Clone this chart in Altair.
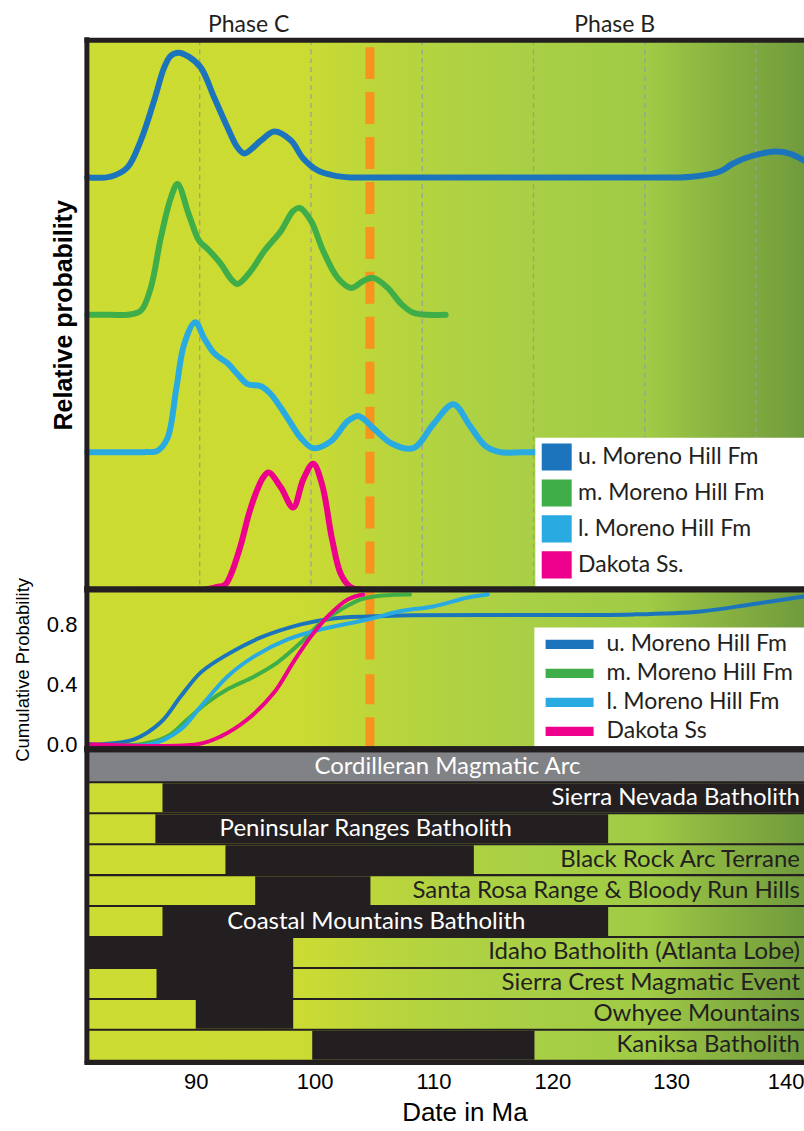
import altair as alt
import pandas as pd

# ---------------------------------------------------------------
# Detrital zircon age spectra, Moreno Hill Fm and Dakota Ss.
# ---------------------------------------------------------------
SAMPLES = ["u. Moreno Hill Fm", "m. Moreno Hill Fm", "l. Moreno Hill Fm", "Dakota Ss."]
SAMPLES_CUM = ["u. Moreno Hill Fm", "m. Moreno Hill Fm", "l. Moreno Hill Fm", "Dakota Ss"]
LINE_COLORS = ["#1c75bc", "#3fae49", "#29abe2", "#ec008c"]
STACK = [3, 2, 1, 0]          # vertical offset of each spectrum

# relative probability curves (age in Ma, height above own baseline)
u_pdf_age = [79.9, 82.0, 83.5, 84.7, 85.9, 86.8, 87.4, 88.1, 89.0, 90.1,
             91.3, 92.5, 93.4, 94.0, 95.5, 96.7, 98.2, 99.3, 100.6, 102.0,
             103.6, 105.0, 120.0, 131.5, 133.2, 135.0, 136.8, 137.9, 139.0, 140.1,
             141.7, 143.1, 144.3]
u_pdf = [0.0, 0.007, 0.073, 0.269, 0.56, 0.80, 0.887, 0.909, 0.88, 0.80,
         0.582, 0.364, 0.218, 0.175, 0.269, 0.335, 0.269, 0.138, 0.051, 0.015,
         0.0, 0.0, 0.0, 0.0, 0.0, 0.012, 0.045, 0.10, 0.14, 0.167,
         0.189, 0.172, 0.124]

m_pdf_age = [79.9, 82.0, 83.5, 84.7, 85.6, 86.5, 87.4, 88.0, 89.0, 89.8, 90.1,
             90.7, 91.9, 92.8, 93.4, 94.6, 95.8, 97.3, 98.4, 99.0, 100.0,
             101.1, 102.4, 103.6, 104.7, 105.6, 106.9, 108.1, 109.2, 110.5, 112.1]
m_pdf = [0.0, 0.0, 0.0, 0.029, 0.196, 0.56, 0.851, 0.953, 0.735, 0.56, 0.524,
         0.48, 0.371, 0.262, 0.225, 0.32, 0.465, 0.611, 0.756, 0.778, 0.684,
         0.465, 0.269, 0.196, 0.247, 0.269, 0.196, 0.08, 0.015, 0.0, 0.0]

l_pdf_age = [79.9, 83.0, 85.0, 86.2, 87.1, 87.9, 88.6, 89.6, 90.4, 91.3, 92.5,
             93.4, 94.3, 95.5, 96.4, 97.9, 99.1, 100.2, 101.8, 103.3, 104.3,
             105.6, 107.2, 109.2, 111.0, 112.8, 114.3, 115.7, 117.0, 119.0, 121.0]
l_pdf = [0.0, 0.0, 0.0, 0.01, 0.102, 0.465, 0.785, 0.945, 0.829, 0.72, 0.647,
         0.567, 0.495, 0.48, 0.422, 0.247, 0.102, 0.029, 0.08, 0.225, 0.262,
         0.175, 0.065, 0.029, 0.204, 0.349, 0.189, 0.044, 0.0, 0.0, 0.0]

d_pdf_age = [90.5, 91.4, 92.3, 92.8, 93.7, 94.4, 95.0, 95.7, 96.2, 97.3,
             98.4, 99.3, 100.2, 101.0, 101.9, 102.7, 103.6, 104.5]
d_pdf = [0.0, 0.015, 0.036, 0.109, 0.327, 0.545, 0.691, 0.815, 0.851, 0.742,
         0.596, 0.80, 0.916, 0.764, 0.364, 0.109, 0.015, 0.0]

# cumulative probability curves
u_cdf_age = [79.9, 81.1, 84.1, 86.5, 88.3, 90.1, 92.5, 95.5, 99.1, 102.0,
             105.1, 108.1, 129.0, 135.0, 139.5, 144.3]
u_cdf = [0.0, 0.0, 0.033, 0.147, 0.32, 0.48, 0.6, 0.713, 0.8, 0.84,
         0.853, 0.86, 0.867, 0.887, 0.933, 0.987]

m_cdf_age = [79.9, 84.7, 87.1, 88.9, 90.7, 92.5, 94.9, 97.0, 99.1, 100.9,
             102.7, 104.5, 106.5, 108.9]
m_cdf = [0.0, 0.0, 0.053, 0.167, 0.28, 0.367, 0.453, 0.547, 0.68, 0.813,
         0.9, 0.967, 0.993, 1.0]

l_cdf_age = [79.9, 85.6, 88.3, 90.1, 92.5, 94.9, 97.9, 100.9, 105.1, 108.1,
             111.0, 114.1, 115.9]
l_cdf = [0.0, 0.0, 0.1, 0.253, 0.453, 0.587, 0.7, 0.767, 0.833, 0.89,
         0.92, 0.98, 1.0]

d_cdf_age = [79.9, 89.8, 91.9, 94.3, 96.7, 98.4, 100.0, 101.5, 103.3, 104.7]
d_cdf = [0.0, 0.0, 0.053, 0.167, 0.347, 0.547, 0.72, 0.853, 0.967, 1.0]

# phases and reference lines
PHASES = ["Phase C", "Phase B"]
PHASE_MID = [94.4, 127.3]
PHASE_BOUNDARY = 105.3
GRID_AGES = [90, 100, 110, 120, 130, 140]

# Cordilleran magmatic arc belts: end of young activity / start of older activity (Ma)
ARC = "Cordilleran Magmatic Arc"
BELTS = ["Sierra Nevada Batholith", "Peninsular Ranges Batholith",
         "Black Rock Arc Terrane", "Santa Rosa Range & Bloody Run Hills",
         "Coastal Mountains Batholith", "Idaho Batholith (Atlanta Lobe)",
         "Sierra Crest Magmatic Event", "Owhyee Mountains", "Kaniksa Batholith"]
YOUNG_END = [87.2, 86.6, 92.5, 95.0, 87.2, None, 86.7, 90.0, 99.8]
OLD_START = [None, 124.7, 113.4, 104.7, 124.7, 98.2, 98.2, 98.2, 118.5]
LABEL_AT = [None, 104.3, None, None, 105.2, None, None, None, None]
LABEL_ON_DARK = [True, True, False, False, True, False, False, False, False]
AGE_TICKS = [90, 100, 110, 120, 130, 140]

# ---------------------------------------------------------------
# styling
# ---------------------------------------------------------------
W = 718
H_TOP, H_MID, H_BOT = 550, 160, 314
INK = "#231f20"
ORANGE = "#f7941d"
TXT_FONT = "Lato"
NUM_FONT = "Liberation Sans"
GRAD_OFFSETS = [0.0, 0.3, 0.4, 0.5, 0.62, 0.78, 0.87, 1.0]
GRAD_COLORS = ["#cddc32", "#cbdb33", "#bcd63b", "#b1d242", "#a8cf45",
               "#a0cb46", "#8bb541", "#709b3d"]
GRADIENT = alt.Gradient(
    gradient="linear", x1=0, x2=1, y1=0, y2=0,
    stops=[alt.GradientStop(offset=o, color=c) for o, c in zip(GRAD_OFFSETS, GRAD_COLORS)],
)

# legend swatches built from stacked strokes (solid block / thick bar)
SWATCH_BLOCK = "".join(f"M-1,{v:.1f}L1,{v:.1f}" for v in
                       [-0.8, -0.6, -0.4, -0.2, 0.0, 0.2, 0.4, 0.6, 0.8])
SWATCH_BAR = "M-2.5,-0.3125L2.5,-0.3125M-2.5,0L2.5,0M-2.5,0.3125L2.5,0.3125"

X_TOP = alt.Scale(domain=[79.86, 144.31], nice=False, zero=False)
X_BOT = alt.Scale(domain=[80.84, 141.18], nice=False, zero=False)

ONE = pd.DataFrame({"k": [0]})


def curve_table(names, ages_list, vals_list, offsets):
    rows = []
    for name, ages, vals, off in zip(names, ages_list, vals_list, offsets):
        rows += [{"sample": name, "age": a, "val": off + v} for a, v in zip(ages, vals)]
    return pd.DataFrame(rows)


pdf_df = curve_table(SAMPLES, [u_pdf_age, m_pdf_age, l_pdf_age, d_pdf_age],
                     [u_pdf, m_pdf, l_pdf, d_pdf], STACK)
cdf_df = curve_table(SAMPLES_CUM, [u_cdf_age, m_cdf_age, l_cdf_age, d_cdf_age],
                     [u_cdf, m_cdf, l_cdf, d_cdf], [0, 0, 0, 0])


def backdrop():
    return alt.Chart(ONE).mark_rect(fill=GRADIENT).encode(
        x=alt.value(0), x2=alt.value("width"), y=alt.value(0), y2=alt.value("height"))


def frame(top_w, bottom_w):
    return [
        alt.Chart(ONE).mark_rule(color=INK, strokeWidth=5).encode(
            x=alt.value(0), y=alt.value(-3), y2=alt.value("height")),
        alt.Chart(ONE).mark_rule(color=INK, strokeWidth=top_w).encode(
            x=alt.value(-2.5), x2=alt.value("width"), y=alt.value(0)),
        alt.Chart(ONE).mark_rule(color=INK, strokeWidth=bottom_w).encode(
            x=alt.value(-2.5), x2=alt.value("width"), y=alt.value("height")),
    ]


def legend_box(x0, y0):
    return alt.Chart(ONE).mark_rect(fill="white").encode(
        x=alt.value(x0), x2=alt.value("width"), y=alt.value(y0), y2=alt.value("height"))


# ---------------- panel 1: relative probability ----------------
grid = alt.Chart(pd.DataFrame({"age": GRID_AGES})).mark_rule(
    color="#9c9e8e", strokeWidth=1.2, strokeDash=[5, 4]
).encode(x=alt.X("age:Q", scale=X_TOP, axis=None))

boundary_top = alt.Chart(pd.DataFrame({"age": [PHASE_BOUNDARY]})).mark_rule(
    color=ORANGE, strokeWidth=9, strokeDash=[32, 13], strokeDashOffset=38
).encode(x=alt.X("age:Q", scale=X_TOP, axis=None))

pdf_lines = alt.Chart(pdf_df).mark_line(interpolate="catmull-rom", strokeCap="round").encode(
    x=alt.X("age:Q", scale=X_TOP, axis=None),
    y=alt.Y("val:Q", scale=alt.Scale(domain=[0, 4], nice=False, zero=False),
            axis=alt.Axis(title="Relative probability", labels=False, ticks=False,
                          domain=False, grid=False, titleFont=NUM_FONT,
                          titleFontSize=25, titleFontWeight="bold", titleColor="black",
                          titlePadding=10)),
    color=alt.Color("sample:N", scale=alt.Scale(domain=SAMPLES, range=LINE_COLORS),
                    legend=alt.Legend(title=None, orient="none", legendX=453.4, legendY=400.4,
                                      symbolType=SWATCH_BLOCK, symbolSize=900,
                                      symbolStrokeWidth=3.2, labelFont=TXT_FONT,
                                      labelFontSize=23, labelColor=INK, labelOffset=4.4,
                                      rowPadding=-2, padding=0, labelLimit=300)),
    strokeWidth=alt.value(6),
)

phase_text = alt.Chart(pd.DataFrame({"phase": PHASES, "age": PHASE_MID})).mark_text(
    font=TXT_FONT, fontSize=23, color=INK, baseline="middle"
).encode(x=alt.X("age:Q", scale=X_TOP, axis=None), y=alt.value(-15), text="phase:N")

top = alt.layer(
    backdrop(), grid, boundary_top, pdf_lines, legend_box(449, 398),
    *frame(5, 6), phase_text,
).properties(width=W, height=H_TOP)

# ---------------- panel 2: cumulative probability ----------------
boundary_mid = alt.Chart(pd.DataFrame({"age": [PHASE_BOUNDARY]})).mark_rule(
    color=ORANGE, strokeWidth=9, strokeDash=[70, 15, 30, 13, 32, 20]
).encode(x=alt.X("age:Q", scale=X_TOP, axis=None))

cdf_lines = alt.Chart(cdf_df).mark_line(interpolate="catmull-rom", strokeCap="round").encode(
    x=alt.X("age:Q", scale=X_TOP, axis=None),
    y=alt.Y("val:Q", scale=alt.Scale(domain=[-0.0333, 1.0333], nice=False, zero=False),
            axis=alt.Axis(values=[0, 0.4, 0.8], format=".1f", title="Cumulative Probability",
                          labelFont=NUM_FONT, labelFontSize=22, labelColor="black",
                          labelPadding=10, ticks=False, domain=False, grid=False,
                          titleFont=NUM_FONT, titleFontSize=18.5,
                          titleFontWeight="normal", titleColor="black", titlePadding=14)),
    color=alt.Color("sample:N", scale=alt.Scale(domain=SAMPLES_CUM, range=LINE_COLORS),
                    legend=alt.Legend(title=None, orient="none", legendX=471.8, legendY=43.5,
                                      symbolType=SWATCH_BAR, symbolSize=369,
                                      symbolStrokeWidth=3.2, labelFont=TXT_FONT,
                                      labelFontSize=23, labelColor=INK, labelOffset=25.5,
                                      rowPadding=5, padding=0, labelLimit=300)),
    strokeWidth=alt.value(4),
)

mid = alt.layer(
    backdrop(), boundary_mid, cdf_lines, legend_box(448, 38), *frame(6, 6),
).properties(width=W, height=H_MID)

# ---------------- panel 3: magmatic arc belts ----------------
lo, hi = X_BOT.domain
belt_df = pd.DataFrame({
    "row": BELTS,
    "gap_start": [lo if v is None else v for v in YOUNG_END],
    "gap_end": [hi if v is None else v for v in OLD_START],
    "label_at": LABEL_AT,
    "ink": ["white" if d else INK for d in LABEL_ON_DARK],
})
ROWS = [ARC] + BELTS
Y_ROW = alt.Scale(domain=ROWS, paddingInner=0.065, paddingOuter=0.1)
y_row = alt.Y("row:N", scale=Y_ROW, axis=None)

black_bg = alt.Chart(ONE).mark_rect(fill=INK).encode(
    x=alt.value(0), x2=alt.value("width"), y=alt.value(0), y2=alt.value("height"))
header_df = pd.DataFrame({"row": [ARC]})
header = alt.Chart(header_df).mark_rect(fill="#808285").encode(
    x=alt.value(0), x2=alt.value("width"), y=y_row)
header_text = alt.Chart(header_df).mark_text(font=TXT_FONT, fontSize=24, color="white").encode(
    x=alt.value(361), y=y_row, text="row:N")
belt_bg = alt.Chart(belt_df).mark_rect(fill=GRADIENT).encode(
    x=alt.value(0), x2=alt.value("width"), y=y_row)
gaps = alt.Chart(belt_df).mark_rect(fill=INK).encode(
    x=alt.X("gap_start:Q", scale=X_BOT,
            axis=alt.Axis(values=AGE_TICKS, title="Date in Ma", labelFont=NUM_FONT,
                          labelFontSize=22, labelColor="black", labelPadding=9,
                          labelFlush=15, labelFlushOffset=14,
                          ticks=False, domain=False, grid=False,
                          titleFont=NUM_FONT, titleFontSize=26,
                          titleFontWeight="normal", titleColor="black", titlePadding=7,
                          titleX=378)),
    x2="gap_end:Q",
    y=y_row,
)
right_labels = alt.Chart(belt_df[belt_df["label_at"].isna()]).mark_text(
    font=TXT_FONT, fontSize=24, align="right", dx=-4
).encode(x=alt.value(W), y=y_row, text="row:N", color=alt.Color("ink:N", scale=None))
gap_labels = alt.Chart(belt_df[belt_df["label_at"].notna()]).mark_text(
    font=TXT_FONT, fontSize=24, align="center"
).encode(x=alt.X("label_at:Q", scale=X_BOT), y=y_row, text="row:N",
         color=alt.Color("ink:N", scale=None))

bot = alt.layer(
    black_bg, header, header_text, belt_bg, gaps, right_labels, gap_labels,
    *frame(6, 4),
).properties(width=W, height=H_BOT)

chart = alt.vconcat(top, mid, bot, spacing=0, bounds="flush").resolve_scale(
    x="independent", y="independent", color="independent"
).resolve_legend(color="independent").properties(
    padding={"left": 13, "top": 13.5, "right": -12, "bottom": 0}
).configure_view(stroke=None)

chart.save("out.html", embed_options={"renderer": "svg", "actions": False})
